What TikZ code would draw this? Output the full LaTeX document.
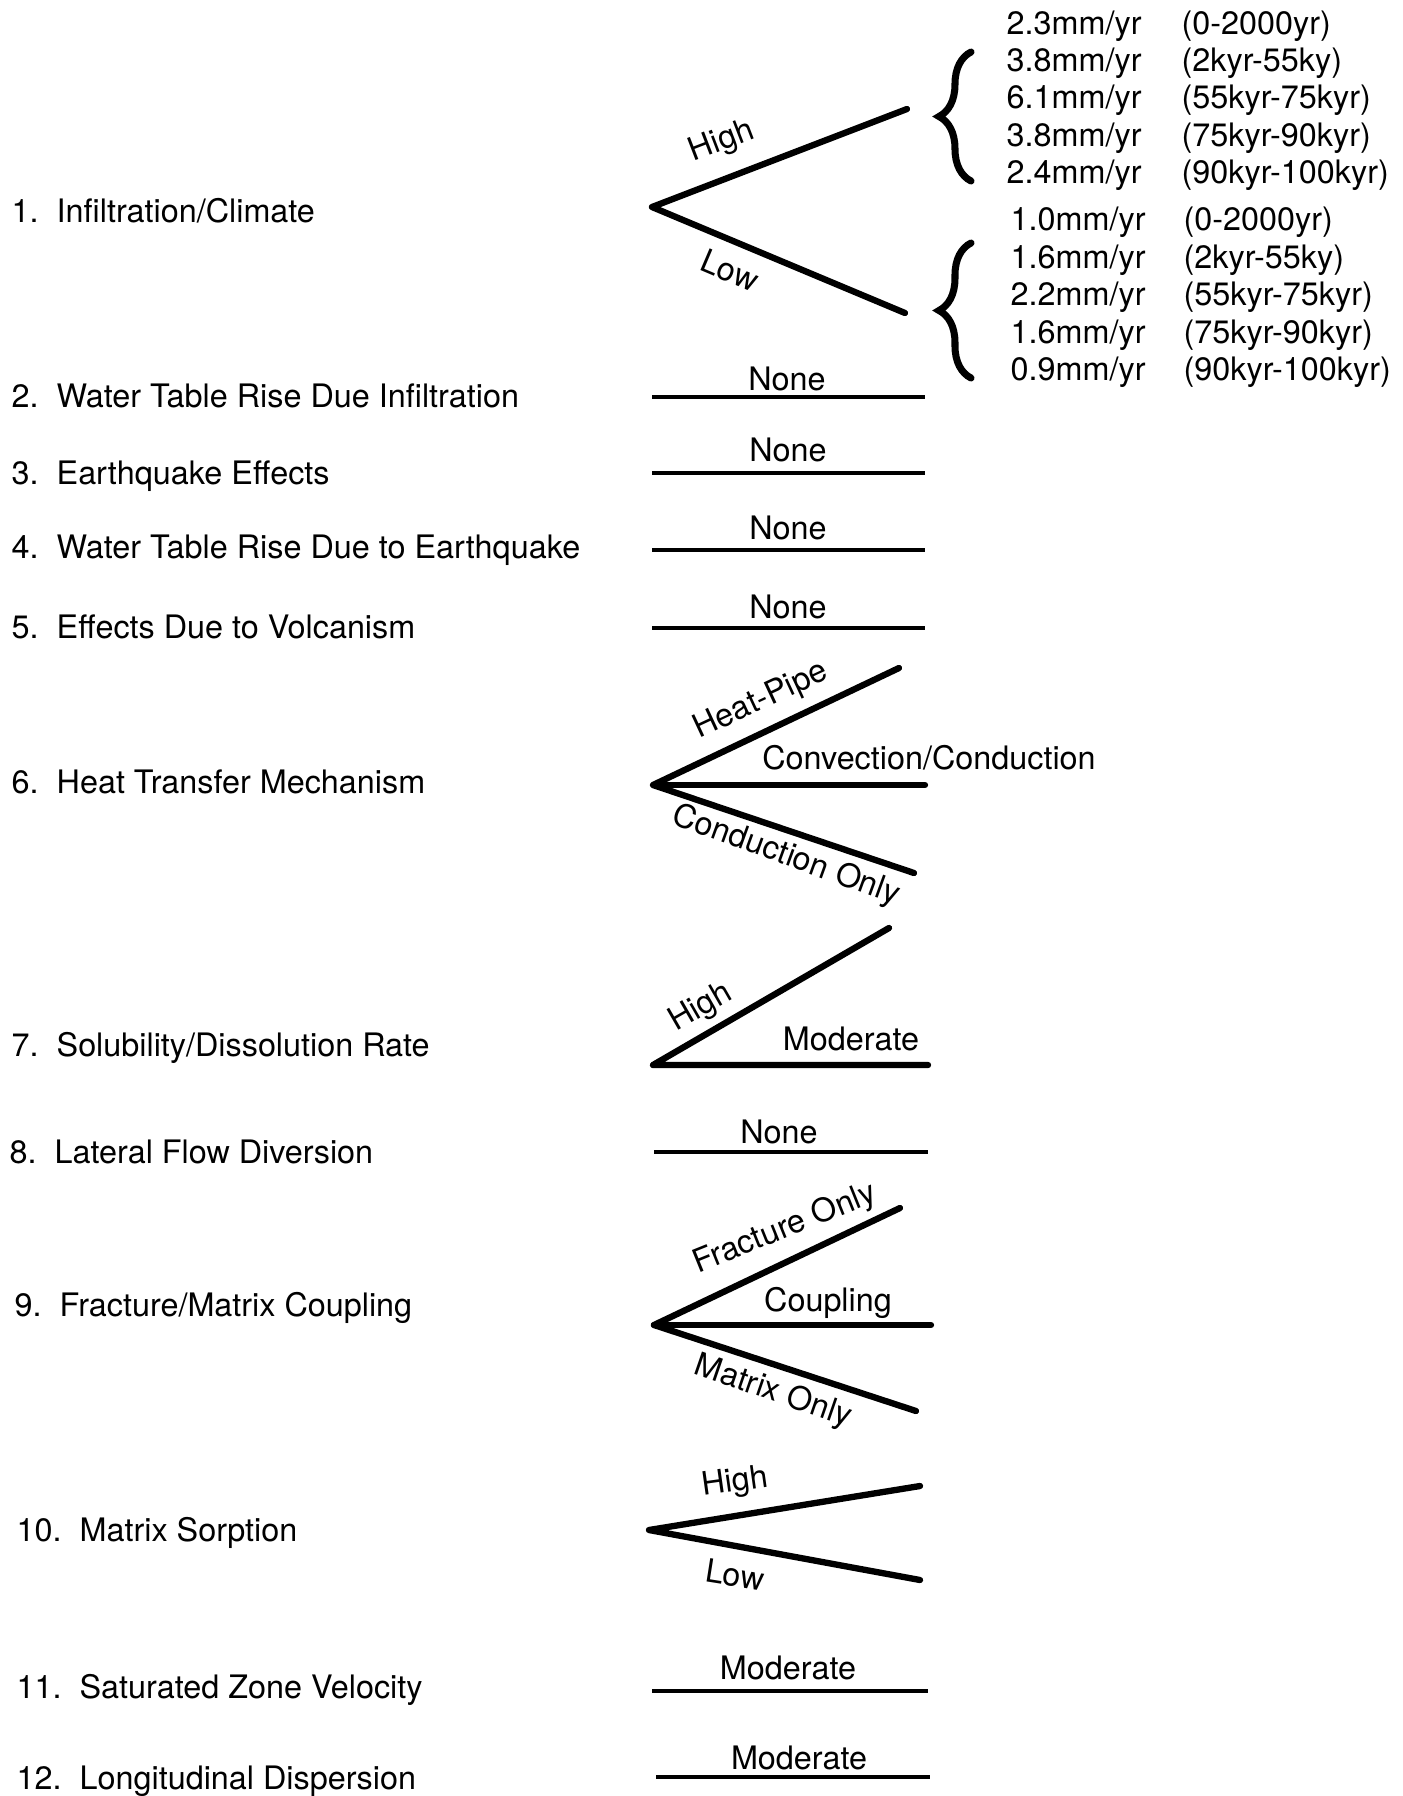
\documentclass[tikz,border=0pt]{standalone}
\usepackage{fontspec}
\setmainfont{TeX Gyre Heros}
\usetikzlibrary{decorations.pathreplacing, positioning}

\begin{document}
\begin{tikzpicture}[
    x=0.01cm, y=-0.01cm,
    font=\fontsize{9.2}{11}\selectfont,
    factor/.style = {anchor=base west, inner sep=0pt},
    choice/.style = {anchor=base, inner sep=0pt},
    tilted/.style = {inner sep=0pt},
    rate/.style = {anchor=base west, inner sep=0pt},
    branch/.style = {line width=1.8pt, line cap=round, line join=round},
    flat/.style = {line width=1.3pt},
    curly/.style = {decorate, decoration={brace, amplitude=0.32cm},
        line width=2pt, line cap=round},
]
\useasboundingbox (0,0) rectangle (1402,1796);

% Factors
\node[factor] (f1) at (11,222) {1.\ \ Infiltration/Climate};
\node[factor] (f2) at (11,407) {2.\ \ Water Table Rise Due Infiltration};
\node[factor] (f3) at (11,484) {3.\ \ Earthquake Effects};
\node[factor] (f4) at (11,558) {4.\ \ Water Table Rise Due to Earthquake};
\node[factor] (f5) at (11,638) {5.\ \ Effects Due to Volcanism};
\node[factor] (f6) at (11,793) {6.\ \ Heat Transfer Mechanism};
\node[factor] (f7) at (11,1056) {7.\ \ Solubility/Dissolution Rate};
\node[factor] (f8) at (9,1163) {8.\ \ Lateral Flow Diversion};
\node[factor] (f9) at (14,1316) {9.\ \ Fracture/Matrix Coupling};
\node[factor] (f10) at (16,1541) {10.\ \ Matrix Sorption};
\node[factor] (f11) at (16,1698) {11.\ \ Saturated Zone Velocity};
\node[factor] (f12) at (16,1789) {12.\ \ Longitudinal Dispersion};

% 1: infiltration branches
\coordinate (v1) at (652,207);
\coordinate (v1hi) at (907,109);
\coordinate (v1lo) at (905,313);
\draw[branch] (v1hi) -- (v1) -- (v1lo);
\node[tilted, rotate=21] (hi1) at (722,142) {High};
\node[tilted, rotate=-23] (lo1) at (730,270) {Low};

% Rates, high
\node[rate] (hr1) at (1006,34) {2.3mm/yr};
\node[rate] (hr2) at (1006,71) {3.8mm/yr};
\node[rate] (hr3) at (1006,108) {6.1mm/yr};
\node[rate] (hr4) at (1006,146) {3.8mm/yr};
\node[rate] (hr5) at (1006,183) {2.4mm/yr};
\node[rate] (ht1) at (1181,34) {(0-2000yr)};
\node[rate] (ht2) at (1181,71) {(2kyr-55ky)};
\node[rate] (ht3) at (1181,108) {(55kyr-75kyr)};
\node[rate] (ht4) at (1181,146) {(75kyr-90kyr)};
\node[rate] (ht5) at (1181,183) {(90kyr-100kyr)};

% Rates, low
\node[rate] (lr1) at (1010,230) {1.0mm/yr};
\node[rate] (lr2) at (1010,268) {1.6mm/yr};
\node[rate] (lr3) at (1010,305) {2.2mm/yr};
\node[rate] (lr4) at (1010,343) {1.6mm/yr};
\node[rate] (lr5) at (1010,380) {0.9mm/yr};
\node[rate] (lt1) at (1183,230) {(0-2000yr)};
\node[rate] (lt2) at (1183,268) {(2kyr-55ky)};
\node[rate] (lt3) at (1183,305) {(55kyr-75kyr)};
\node[rate] (lt4) at (1183,343) {(75kyr-90kyr)};
\node[rate] (lt5) at (1183,380) {(90kyr-100kyr)};

% Braces
\coordinate (bh1) at (971,181);
\coordinate (bh2) at (971,52);
\coordinate (bl1) at (971,378);
\coordinate (bl2) at (971,243);
\draw[curly] (bh1) -- (bh2);
\draw[curly] (bl1) -- (bl2);

% 2-5: single outcomes
\coordinate (a2) at (652,397);
\coordinate (b2) at (925,397);
\draw[flat] (a2) -- (b2);
\node[choice] (n2) at (787,390) {None};
\coordinate (a3) at (652,473);
\coordinate (b3) at (925,473);
\draw[flat] (a3) -- (b3);
\node[choice] (n3) at (788,461) {None};
\coordinate (a4) at (652,550);
\coordinate (b4) at (925,550);
\draw[flat] (a4) -- (b4);
\node[choice] (n4) at (788,539) {None};
\coordinate (a5) at (652,628);
\coordinate (b5) at (925,628);
\draw[flat] (a5) -- (b5);
\node[choice] (n5) at (788,618) {None};

% 6: heat transfer
\coordinate (v6) at (653,785);
\coordinate (hp) at (899,668);
\coordinate (cc) at (925,785);
\coordinate (co) at (914,873);
\draw[branch] (hp) -- (v6) -- (co);
\draw[branch] (v6) -- (cc);
\node[tilted, rotate=25] (hpl) at (761,701) {Heat-Pipe};
\node[choice] (ccl) at (929,769) {Convection/Conduction};
\node[tilted, rotate=-20] (col) at (786,856) {Conduction Only};

% 7: solubility
\coordinate (v7) at (653,1065);
\coordinate (hi7) at (889,928);
\coordinate (mo7) at (928,1065);
\draw[branch] (hi7) -- (v7) -- (mo7);
\node[tilted, rotate=30] (hi7l) at (701,1008) {High};
\node[choice] (mo7l) at (851,1050) {Moderate};

% 8: lateral flow
\coordinate (a8) at (654,1152);
\coordinate (b8) at (928,1152);
\draw[flat] (a8) -- (b8);
\node[choice] (n8) at (779,1143) {None};

% 9: coupling
\coordinate (v9) at (654,1325);
\coordinate (fo) at (900,1208);
\coordinate (cp) at (931,1325);
\coordinate (mx) at (916,1411);
\draw[branch] (fo) -- (v9) -- (mx);
\draw[branch] (v9) -- (cp);
\node[tilted, rotate=22] (fol) at (785,1229) {Fracture Only};
\node[choice] (cpl) at (828,1311) {Coupling};
\node[tilted, rotate=-19] (mxl) at (773,1392) {Matrix Only};

% 10: sorption
\coordinate (v10) at (649,1530);
\coordinate (hi10) at (920,1486);
\coordinate (lo10) at (920,1580);
\draw[branch] (hi10) -- (v10) -- (lo10);
\node[tilted, rotate=8] (hi10l) at (735,1483) {High};
\node[tilted, rotate=-9] (lo10l) at (735,1575) {Low};

% 11-12
\coordinate (a11) at (652,1691);
\coordinate (b11) at (928,1691);
\draw[flat] (a11) -- (b11);
\node[choice] (m11) at (788,1679) {Moderate};
\coordinate (a12) at (656,1777);
\coordinate (b12) at (930,1777);
\draw[flat] (a12) -- (b12);
\node[choice] (m12) at (799,1769) {Moderate};

\end{tikzpicture}
\end{document}
